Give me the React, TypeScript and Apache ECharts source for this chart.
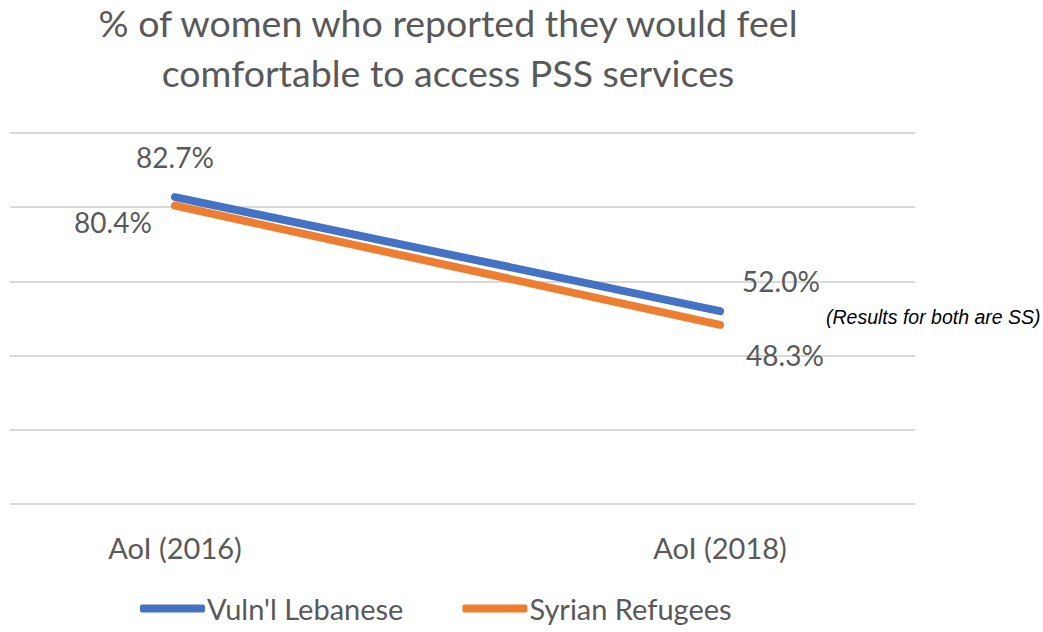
import React, { useEffect, useRef } from "react";
import * as echarts from "echarts";

const categories = ["AoI (2016)", "AoI (2018)"];
const lebaneseValues = [82.7, 52.0];
const syrianValues = [80.4, 48.3];
const seriesNames = ["Vuln'l Lebanese", "Syrian Refugees"];
const titleLines = ["% of women who reported they would feel", "comfortable to access PSS services"];
const noteText = "(Results for both are SS)";

const FONT = "Lato, 'Open Sans', sans-serif";
const GREY = "#595959";

export default function App() {
  const ref = useRef<HTMLDivElement>(null);
  useEffect(() => {
    document.body.style.margin = "0";
    const chart = echarts.init(ref.current!, null, { renderer: "svg" });
    const labelOffsets = {
      leb: [[0, -40], [61, -30]],
      syr: [[-62, 16], [65, 30]],
    };
    const mk = (vals: number[], offs: number[][]) =>
      vals.map((v, i) => ({
        value: v,
        label: { offset: offs[i] },
      }));
    const labelBase = {
      show: true,
      position: "inside",
      formatter: (p: any) => Number(p.value).toFixed(1) + "%",
      color: GREY,
      fontSize: 28,
      fontFamily: FONT,
      textBorderWidth: 0,
    };
    chart.setOption({
      animation: false,
      backgroundColor: "#ffffff",
      graphic: [
        {
          type: "text",
          x: 448,
          y: 22,
          style: {
            text: titleLines[0],
            align: "center",
            verticalAlign: "middle",
            fill: GREY,
            fontSize: 37.5,
            fontFamily: FONT,
          },
        },
        {
          type: "text",
          x: 448,
          y: 72,
          style: {
            text: titleLines[1],
            align: "center",
            verticalAlign: "middle",
            fill: GREY,
            fontSize: 37.5,
            fontFamily: FONT,
          },
        },
        {
          type: "text",
          x: 826,
          y: 317,
          style: {
            text: noteText,
            align: "left",
            verticalAlign: "middle",
            fill: "#000000",
            fontSize: 19.5,
            fontStyle: "italic",
            fontFamily: "'Liberation Sans', Arial, sans-serif",
          },
        },
      ],
      legend: {
        left: 140,
        top: 594,
        padding: 0,
        itemWidth: 65,
        itemHeight: 8,
        itemGap: 59,
        icon: "roundRect",
        textStyle: { color: GREY, fontSize: 29, fontFamily: FONT, padding: [0, 0, 0, -3] },
        data: seriesNames,
      },
      grid: [
        { left: 175, right: 323, top: 133, bottom: 128 },
        { left: 10, right: 128, top: 133, bottom: 128 },
      ],
      xAxis: [
        {
          type: "category",
          gridIndex: 0,
          data: categories,
          boundaryGap: false,
          axisLine: { show: false },
          axisTick: { show: false },
          axisLabel: { color: GREY, fontSize: 29, fontFamily: FONT, margin: 29 },
        },
        {
          type: "category",
          gridIndex: 1,
          data: categories,
          show: false,
        },
      ],
      yAxis: [
        {
          type: "value",
          gridIndex: 0,
          min: 0,
          max: 100,
          interval: 20,
          axisLabel: { show: false },
          axisLine: { show: false },
          axisTick: { show: false },
          splitLine: { show: false },
        },
        {
          type: "value",
          gridIndex: 1,
          min: 0,
          max: 100,
          interval: 20,
          axisLabel: { show: false },
          axisLine: { show: false },
          axisTick: { show: false },
          splitLine: { show: true, lineStyle: { color: "#D9D9D9", width: 2 } },
        },
      ],
      series: [
        {
          name: seriesNames[0],
          type: "line",
          xAxisIndex: 0,
          yAxisIndex: 0,
          data: mk(lebaneseValues, labelOffsets.leb),
          symbol: "circle",
          symbolSize: 1,
          lineStyle: { color: "#4472C4", width: 8, cap: "round" },
          itemStyle: { color: "#4472C4" },
          label: labelBase,
          z: 3,
        },
        {
          name: seriesNames[1],
          type: "line",
          xAxisIndex: 0,
          yAxisIndex: 0,
          data: mk(syrianValues, labelOffsets.syr),
          symbol: "circle",
          symbolSize: 1,
          lineStyle: { color: "#ED7D31", width: 8, cap: "round" },
          itemStyle: { color: "#ED7D31" },
          label: labelBase,
          z: 2,
        },
      ],
    });
    return () => chart.dispose();
  }, []);
  return <div ref={ref} style={{ width: 1043, height: 632 }} />;
}
